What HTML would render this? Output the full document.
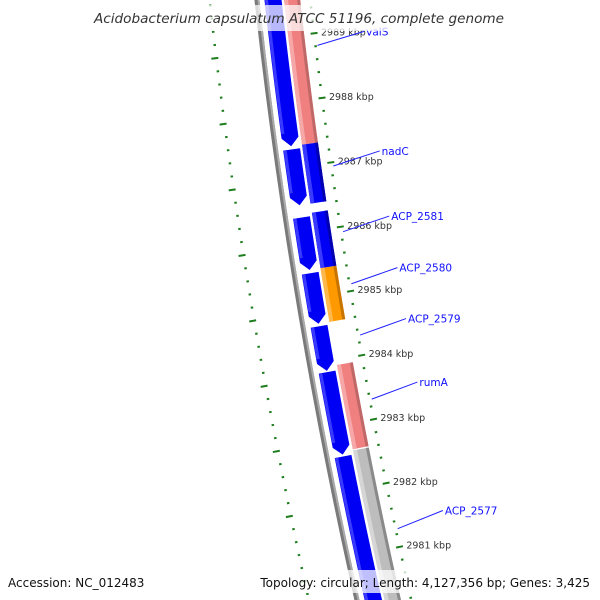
<!DOCTYPE html>
<html><head><meta charset="utf-8"><style>
html,body{margin:0;padding:0;background:#fff;width:600px;height:600px;overflow:hidden}
svg{display:block;font-family:"DejaVu Sans","Liberation Sans",sans-serif}
</style></head><body>
<svg id="map" width="600" height="600" viewBox="0 0 600 600">
<g id="tracks"></g>
<g id="ticks"></g>
<g id="labels"></g>
<rect x="86" y="5" width="428" height="26" fill="#fff" fill-opacity="0.72"/>
<text x="299" y="23" text-anchor="middle" font-size="13.6" font-style="italic" fill="#333">Acidobacterium capsulatum ATCC 51196, complete genome</text>
<rect x="0" y="570" width="600" height="23" fill="#fff" fill-opacity="0.75"/>
<text x="8" y="587" font-size="12" fill="#111">Accession: NC_012483</text>
<text x="590" y="587" font-size="12" fill="#111" text-anchor="end">Topology: circular; Length: 4,127,356 bp; Genes: 3,425</text>
</svg>
<script>
// data (kbp)
const innerStarts = [2989.8, 2987.28, 2986.23, 2985.37, 2984.55, 2983.84, 2982.53];
const innerEnds   = [2987.33, 2986.42, 2985.42, 2984.59, 2983.86, 2982.56, 2979.6];
const outerStarts = [2989.8, 2987.33, 2986.28, 2985.42, 2983.92, 2982.59];
const outerEnds   = [2987.33, 2986.42, 2985.42, 2984.59, 2982.61, 2979.6];
const outerKinds  = ["pink","blue","blue","orange","pink","gray"];
const tickLabels = [2989, 2988, 2987, 2986, 2985, 2984, 2983, 2982, 2981];
const geneNames = ["valS","nadC","ACP_2581","ACP_2580","ACP_2579","rumA","ACP_2577"];
const genePositions = [2988.81, 2986.94, 2985.92, 2985.11, 2984.31, 2983.31, 2981.28];

const NS='http://www.w3.org/2000/svg';
const CX=5707, CY=-600, R0=5483;
const TH0=0.1169, DTH=0.01199;
function ang(k){return TH0+(2989-k)*DTH;}
function pt(r,k){const t=ang(k);return [CX-r*Math.cos(t), CY+r*Math.sin(t)];}
function arcPts(r,k1,k2,n){const a=[];for(let i=0;i<=n;i++){a.push(pt(r,k1+(k2-k1)*i/n));}return a;}
function poly(pts,fill,parent,name){
  const p=document.createElementNS(NS,'polygon');
  p.setAttribute('points',pts.map(q=>q[0].toFixed(2)+','+q[1].toFixed(2)).join(' '));
  p.setAttribute('fill',fill);
  
  
  parent.appendChild(p);return p;
}
function band(r,w,k1,k2,fill,parent,name,arrow){
  const head=0.13;
  const ro=r+w/2, ri=r-w/2;
  let pts;
  if(arrow){
    const kb=k2+head;
    pts=arcPts(ro,k1,kb,20).concat([pt(r,k2)]).concat(arcPts(ri,kb,k1,20));
  } else {
    pts=arcPts(ro,k1,k2,20).concat(arcPts(ri,k2,k1,20));
  }
  return poly(pts,fill,parent,name);
}
const tracks=document.getElementById('tracks');
band(R0,5,2990.5,2979,'#7a7a7a',tracks,'backbone',false);
band(R0-1.5,2,2990.5,2979,'#aaaaaa',tracks,'backbone-highlight',false);
const colors={pink:['#f08080','#f6a8a8','#c06868'],blue:['#0000f5','#3a3aff','#0000b0'],orange:['#ff9900','#ffb84d','#c87400'],gray:['#bdbdbd','#d6d6d6','#8a8a8a']};
for(let i=0;i<innerStarts.length;i++){
  const r=R0-16;
  band(r,17,innerStarts[i],innerEnds[i],colors.blue[0],tracks,'reverse-gene-'+i,true);
  band(r+6.5,3,innerStarts[i],innerEnds[i]+0.2,colors.blue[1],tracks,'reverse-gene-shade-'+i,false);
}
for(let i=0;i<outerStarts.length;i++){
  const r=R0-35, c=colors[outerKinds[i]];
  band(r,16,outerStarts[i],outerEnds[i],c[0],tracks,'forward-gene-'+i,false);
  band(r+6,4,outerStarts[i],outerEnds[i],c[1],tracks,'forward-gene-light-'+i,false);
  band(r-6.5,3,outerStarts[i],outerEnds[i],c[2],tracks,'forward-gene-dark-'+i,false);
}
const ticks=document.getElementById('ticks');
function tick(r,len,wid,k,name){
  const a=pt(r+len/2,k), b=pt(r-len/2,k);
  const l=document.createElementNS(NS,'line');
  l.setAttribute('x1',a[0]);l.setAttribute('y1',a[1]);l.setAttribute('x2',b[0]);l.setAttribute('y2',b[1]);
  l.setAttribute('stroke','#1e7d1e');l.setAttribute('stroke-width',wid);
  
  
  ticks.appendChild(l);
}
for(let i=0;i<=55;i++){
  const k=2990.4-i*0.2; const major=Math.abs(k-Math.round(k))<0.01;
  tick(R0-53,major?7:2.5,2,k,major?'major-tick':'minor-tick');
  const lk=k-0.2; const lmajor=Math.abs((lk+0.2)-Math.round(lk+0.2))<0.01;
  tick(R0+47+(lmajor?1.5:0),lmajor?7:2.5,2,lk,'inner-ruler-tick');
}
const labels=document.getElementById('labels');
function txt(x,y,s,size,fill,name){
  const t=document.createElementNS(NS,'text');
  t.setAttribute('x',x);t.setAttribute('y',y);t.setAttribute('font-size',size);t.setAttribute('fill',fill);
  t.textContent=s;
  
  
  labels.appendChild(t);
}
tickLabels.forEach(k=>{const p=pt(R0-60,k);txt(p[0],p[1]+3,k+' kbp',9.5,'#333','tick-label');});
geneNames.forEach((n,i)=>{
  const k=genePositions[i];
  const a=pt(R0-55,k), b=pt(R0-103,k+0.13);
  const l=document.createElementNS(NS,'line');
  l.setAttribute('x1',a[0]);l.setAttribute('y1',a[1]);l.setAttribute('x2',b[0]);l.setAttribute('y2',b[1]);
  l.setAttribute('stroke','#2020ff');l.setAttribute('stroke-width',1);
  
  
  labels.appendChild(l);
  txt(b[0]+2,b[1]+4,n,10.5,'#1010ff','gene-label');
});
</script>
</body></html>
